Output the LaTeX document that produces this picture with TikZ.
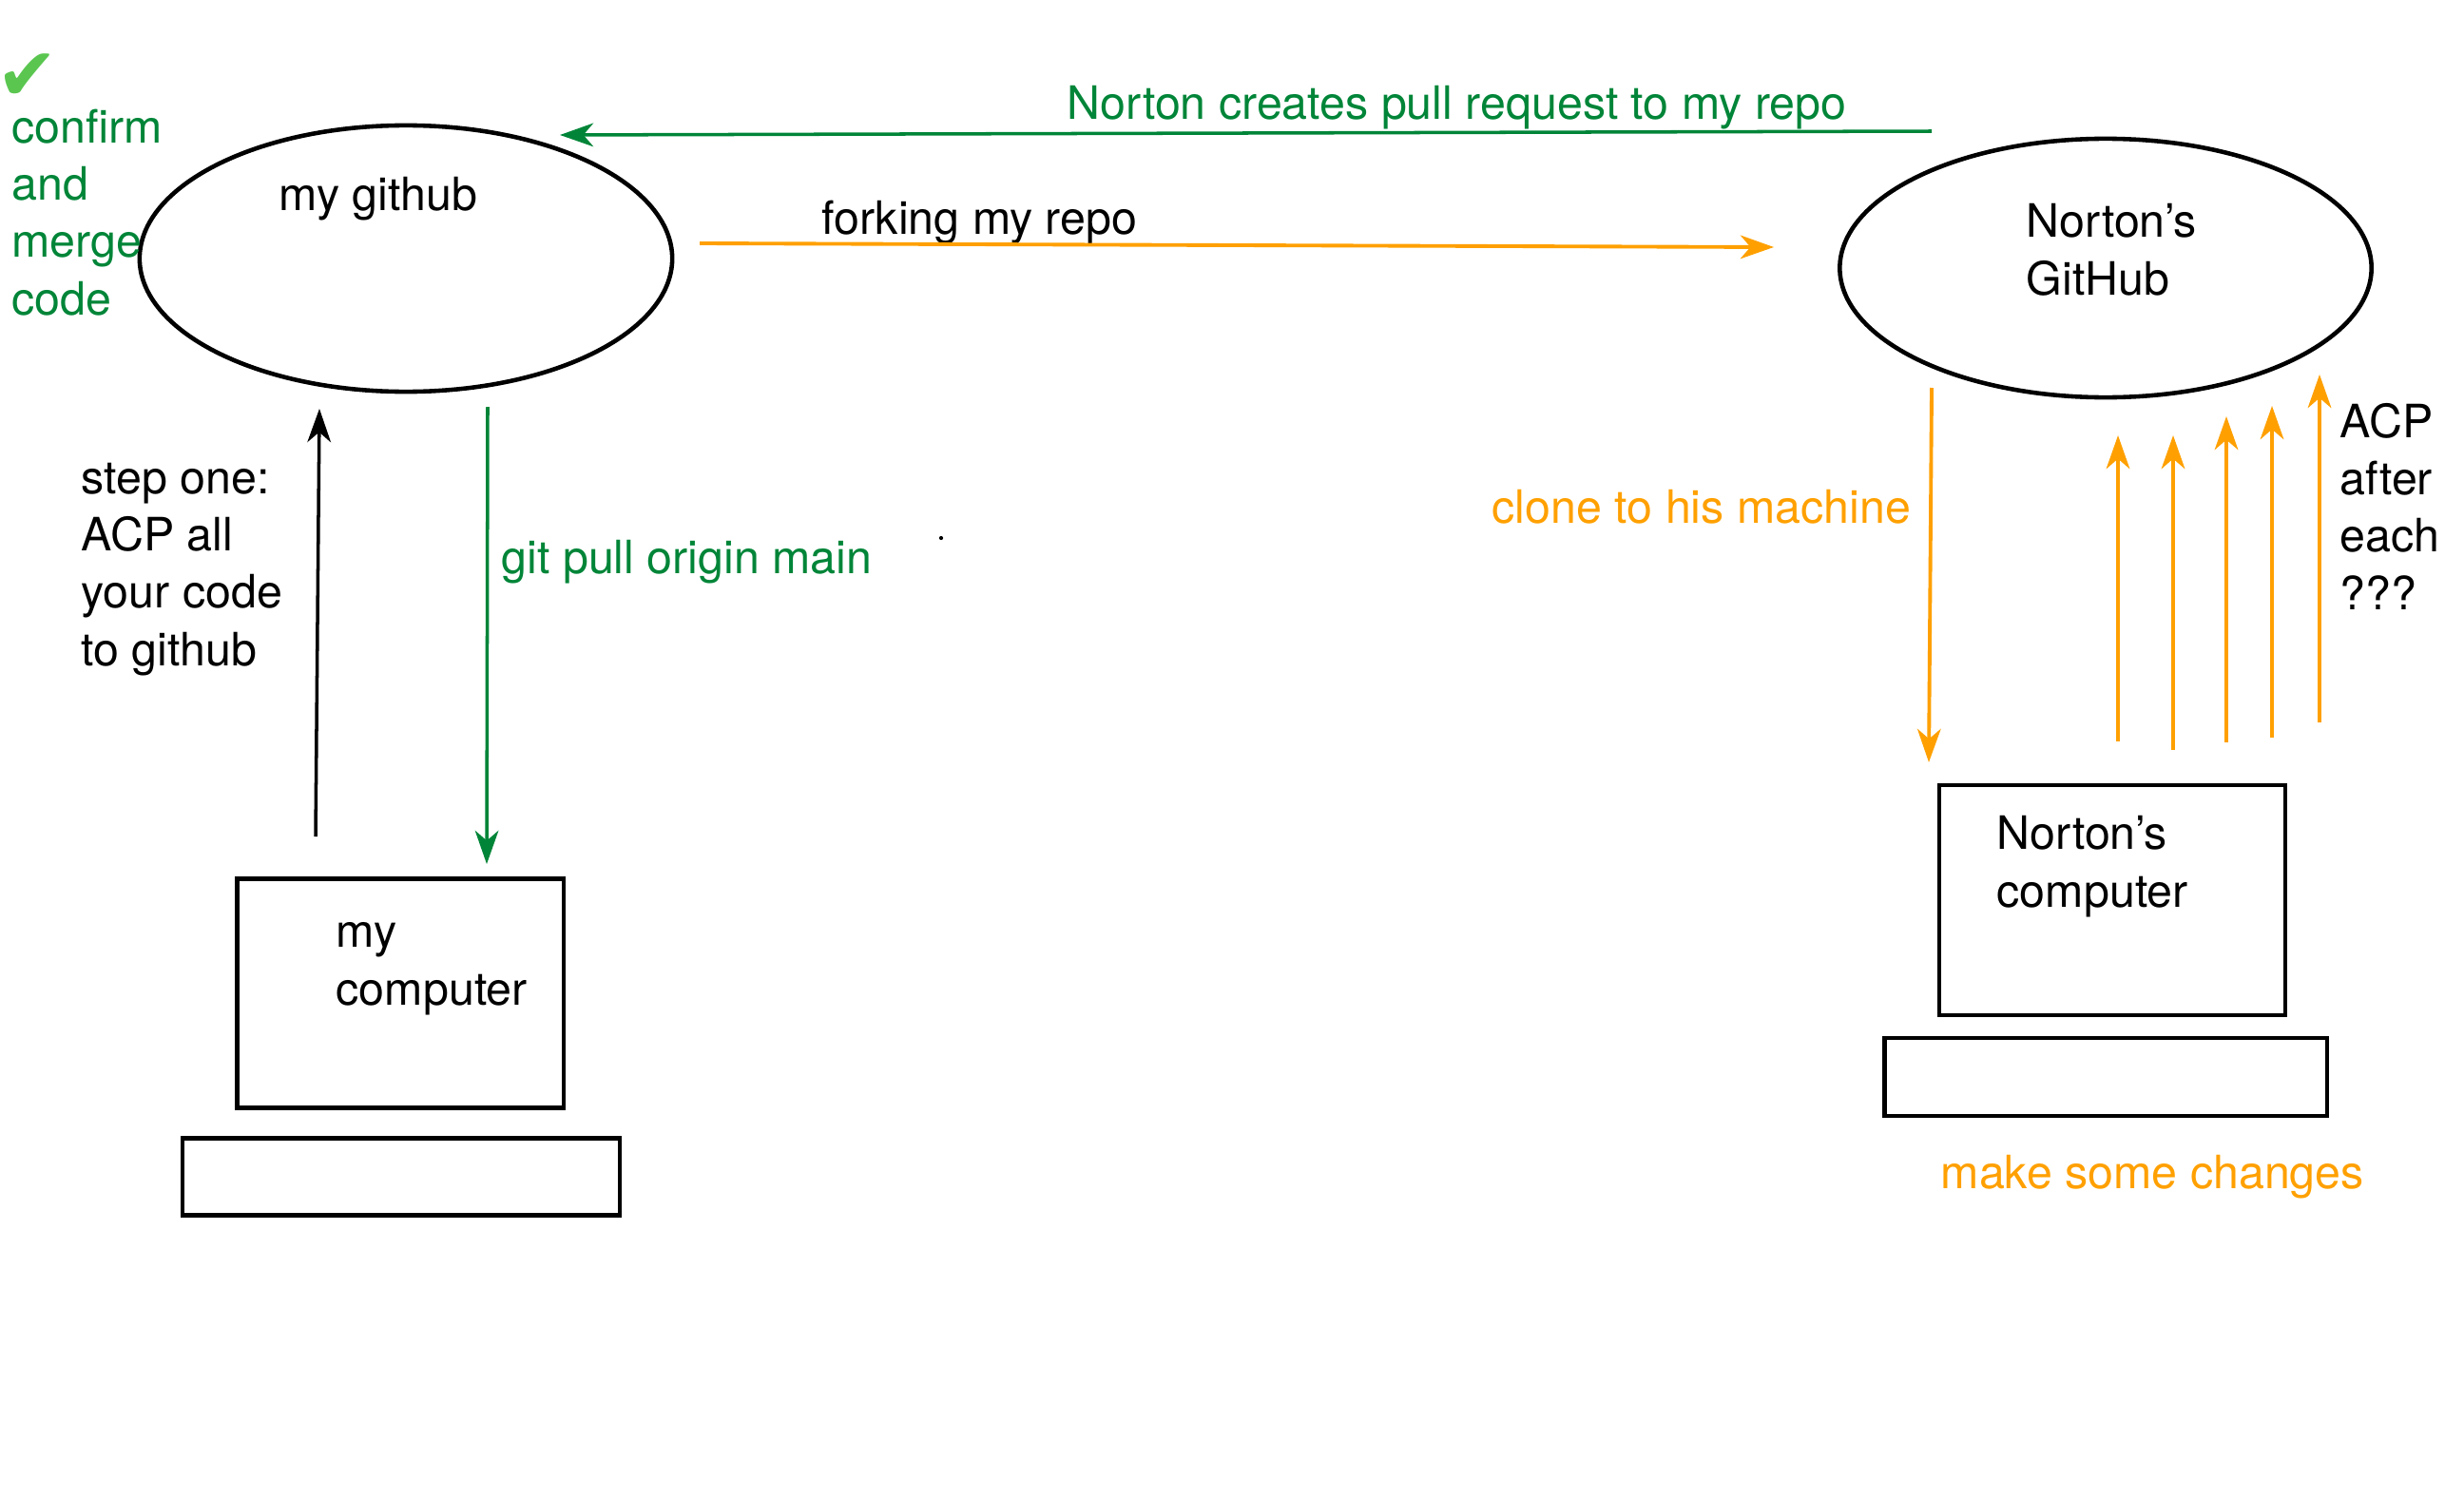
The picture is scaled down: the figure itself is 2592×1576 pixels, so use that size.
\documentclass[tikz,border=0pt]{standalone}
\usepackage{fontspec}
\setmainfont{TeX Gyre Heros}
\newfontfamily\symbfont{DejaVu Sans}
\usetikzlibrary{arrows.meta,shapes.geometric}
\definecolor{gitgreen}{RGB}{0,133,56}
\definecolor{tickgreen}{RGB}{90,198,80}
\definecolor{forkorange}{RGB}{255,160,0}

\begin{document}
\begin{tikzpicture}
[x=0.01cm,y=-0.01cm,
font=\fontsize{13.75}{17.07}\selectfont,
repo/.style={shape=ellipse,draw=black,line width=1.3pt,inner sep=0pt},
machine/.style={shape=rectangle,draw=black,line width=1.2pt,inner sep=0pt},
note/.style={anchor=base west,inner sep=0pt,align=left},
greennote/.style={note,text=gitgreen},
orangenote/.style={note,text=forkorange},
myedge/.style={line width=1pt,-{Stealth[length=10pt,width=7pt,inset=3pt]}},
pulledge/.style={myedge,color=gitgreen},
forkedge/.style={myedge,color=forkorange,line width=1.1pt}]

\useasboundingbox (0,0) rectangle (2592,1576);

\node (mygithub) [repo,minimum width=5.6cm,minimum height=2.8cm] at (427,272) {};
\node (nortongithub) [repo,minimum width=5.59cm,minimum height=2.72cm] at (2215,282) {};
\node (mycomputer) [machine,minimum width=3.43cm,minimum height=2.41cm] at (421,1045) {};
\node (mykeyboard) [machine,minimum width=4.59cm,minimum height=0.81cm] at (422,1238) {};
\node (nortoncomputer) [machine,minimum width=3.64cm,minimum height=2.42cm] at (2222,947) {};
\node (nortonkeyboard) [machine,minimum width=4.65cm,minimum height=0.82cm] at (2215,1133) {};

% multi-line notes sit on the baseline of their last line
\node (tick) [text=tickgreen,inner sep=0pt,anchor=base,font=\symbfont\fontsize{22}{22}\selectfont] at (29,106) {✔};
\node (confirm) [greennote] at (12,331) {confirm\\and\\merge\\code};
\node (mygithubtxt) [note] at (293,221) {my github};
\node (pulltxt) [greennote] at (1122,126) {Norton creates pull request to my repo};
\node (forktxt) [note] at (864,246) {forking my repo};
\node (steponetxt) [note] at (85,700) {step one:\\ACP all\\your code\\to github};
\node (gitpulltxt) [greennote] at (527,603) {git pull origin main};
\node (dot) [circle,fill=black,inner sep=0pt,minimum size=1.2pt] at (990,566) {};
\node (mycomputertxt) [note] at (353,1057) {my\\computer};
\node (nortongithubtxt) [note] at (2131,310) {Norton’s\\GitHub};
\node (clonetxt) [orangenote] at (1569,550) {clone to his machine};
\node (acptxt) [note] at (2461,641) {ACP\\after\\each\\???};
\node (nortoncomputertxt) [note] at (2100,954) {Norton’s\\computer};
\node (changestxt) [orangenote] at (2041,1250) {make some changes};

% arrows between the machines and the repos
\coordinate (pullfrom) at (2032,138);
\coordinate (pullto) at (589,142);
\coordinate (forkfrom) at (736,256);
\coordinate (forkto) at (1866,260);
\coordinate (pushfrom) at (332,880);
\coordinate (pushto) at (336,430);
\coordinate (originfrom) at (513,428);
\coordinate (originto) at (512,909);
\coordinate (clonefrom) at (2032,408);
\coordinate (cloneto) at (2029,802);
\draw[pulledge] (pullfrom) -- (pullto);
\draw[forkedge] (forkfrom) -- (forkto);
\draw[myedge] (pushfrom) -- (pushto);
\draw[pulledge] (originfrom) -- (originto);
\draw[forkedge] (clonefrom) -- (cloneto);
\foreach \i/\x/\ya/\yb in {1/2228/780/458,2/2286/789/458,3/2342/781/438,4/2390/776/427,5/2440/760/394}{
\coordinate (acpfrom\i) at (\x,\ya);
\coordinate (acpto\i) at (\x,\yb);
\draw[forkedge] (acpfrom\i) -- (acpto\i);
}

\end{tikzpicture}
\end{document}
